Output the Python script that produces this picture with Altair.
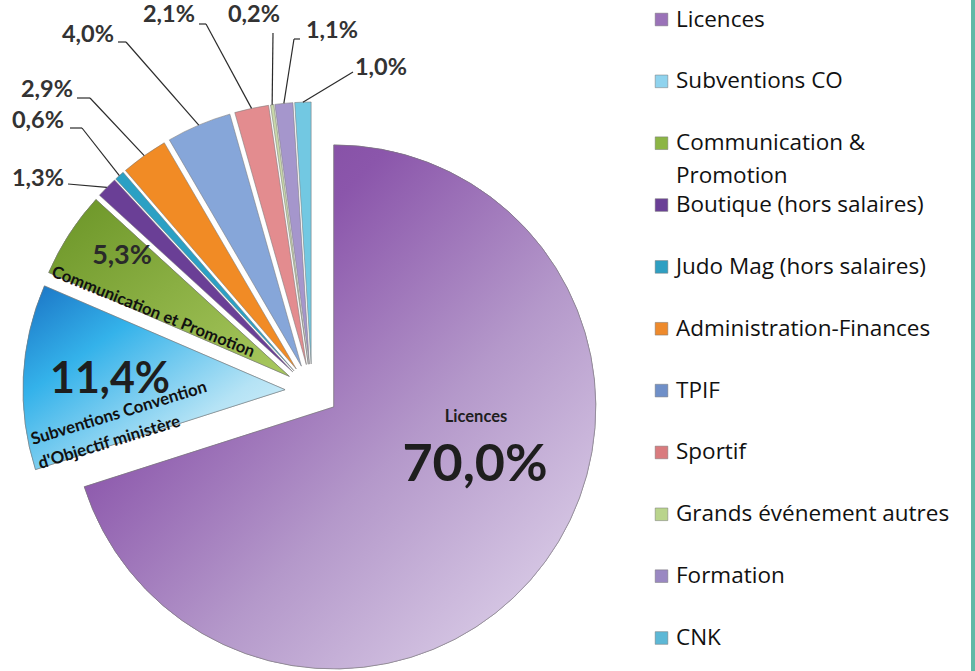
import altair as alt
import pandas as pd

# ---------------- data ----------------
categories = [
    "Licences", "Subventions CO", "Communication & Promotion",
    "Boutique (hors salaires)", "Judo Mag (hors salaires)",
    "Administration-Finances", "TPIF", "Sportif",
    "Grands événement autres", "Formation", "CNK",
]
values = [70.0, 11.4, 5.3, 1.3, 0.6, 2.9, 4.0, 2.1, 0.2, 1.1, 1.0]
value_labels = ["70,0%", "11,4%", "5,3%", "1,3%", "0,6%", "2,9%",
                "4,0%", "2,1%", "0,2%", "1,1%", "1,0%"]
legend_labels = [
    "Licences", "Subventions CO", "Communication &\nPromotion",
    "Boutique (hors salaires)", "Judo Mag (hors salaires)",
    "Administration-Finances", "TPIF", "Sportif",
    "Grands événement autres", "Formation", "CNK",
]
inner_names = {
    "Licences": "Licences",
    "Subventions CO": "Subventions Convention\nd'Objectif ministère",
    "Communication & Promotion": "Communication et Promotion",
}

# ---------------- styles / layout ----------------
slice_colors = ["#9a6ab6", "#45b6e8", "#7aa334", "#6a3f96", "#2ba0c4",
                "#f18b25", "#86a6d9", "#e38c8f", "#c9d8aa", "#a596cc", "#72c8e2"]
legend_colors = ["#9a72b8", "#8fd3ee", "#8cb545", "#6a3f96", "#2f9fc2",
                 "#ee8a2c", "#6f8fc8", "#d97b7e", "#b9d48c", "#9a88c2", "#5db8d6"]
FONT = "Lato"
LEG_FONT = "Open Sans"
CX, CY, R, EXPLODE = 312, 391, 262, 27

# label layout for the small slices: label centre (lx, ly), line tail (tx, ty), elbow x (ex)
outer_layout = {
    "Boutique (hors salaires)": (38, 179, 68, 184, 68),
    "Judo Mag (hors salaires)": (38, 121, 70, 128, 82),
    "Administration-Finances": (47, 90, 77, 98, 90),
    "TPIF": (88, 35, 118, 42, 126),
    "Sportif": (169, 15, 199, 24, 206),
    "Grands événement autres": (254, 15, 273, 33, 273),
    "Formation": (332, 31, 300, 39, 294),
    "CNK": (381, 68, 353, 72, 353),
}

rows = []
for i, (c, v, l) in enumerate(zip(categories, values, value_labels)):
    lay = outer_layout.get(c)
    rows.append({
        "category": c, "value": v, "label": l, "order": i,
        "inner": inner_names.get(c, ""),
        "lx": lay[0] if lay else None, "ly": lay[1] if lay else None,
        "tx": lay[2] if lay else None, "ty": lay[3] if lay else None,
        "ex": lay[4] if lay else None,
    })
df = pd.DataFrame(rows)

base = alt.Chart(df).transform_window(
    cum="sum(value)", sort=[alt.SortField("order")], frame=[None, 0]
).transform_joinaggregate(
    total="sum(value)"
).transform_calculate(
    t0="2*PI*(datum.cum - datum.value)/datum.total",
    t1="2*PI*datum.cum/datum.total",
).transform_calculate(
    mid="(datum.t0 + datum.t1)/2"
).transform_calculate(
    px=f"{CX} + {EXPLODE}*sin(datum.mid)",
    py=f"{CY} - {EXPLODE}*cos(datum.mid)",
    ox=f"{CX} + {EXPLODE + R}*sin(datum.mid)",
    oy=f"{CY} - {EXPLODE + R}*cos(datum.mid)",
)

enc = dict(
    theta=alt.Theta("t0:Q", scale=None),
    theta2=alt.Theta2("t1"),
    x=alt.X("px:Q", scale=None),
    y=alt.Y("py:Q", scale=None),
)
color_scale = alt.Scale(domain=categories, range=slice_colors)

arcs = base.mark_arc(outerRadius=R, stroke="#7a7a7a", strokeWidth=0.8, strokeOpacity=0.7).encode(
    color=alt.Color("category:N", scale=color_scale, legend=None), **enc
)


def grad_layer(cat, stops):
    return base.transform_filter(alt.datum.category == cat).mark_arc(
        outerRadius=R, stroke="#7a7a7a", strokeWidth=0.8, strokeOpacity=0.7,
        fill=alt.LinearGradient(
            gradient="linear", x1=0, y1=0, x2=1, y2=1,
            stops=[alt.GradientStop(offset=o, color=c) for o, c in stops],
        ),
    ).encode(**enc)


g_lic = grad_layer("Licences", [(0, "#7a4199"), (0.3, "#8b56ab"), (0.6, "#b498ca"), (1, "#e6ddf0")])
g_sub = grad_layer("Subventions CO", [(0, "#1a72c4"), (0.3, "#34b2ea"), (0.7, "#b5e3f5"), (1, "#e6f6fb")])
g_com = grad_layer("Communication & Promotion", [(0, "#6a9426"), (1, "#a9c95f")])

outer = base.transform_filter("isValid(datum.lx)")
seg1 = outer.mark_rule(color="#2b2b2b", strokeWidth=1.2).encode(
    x=alt.X("ox:Q", scale=None), y=alt.Y("oy:Q", scale=None), x2=alt.X2("ex"), y2=alt.Y2("ty")
)
seg2 = outer.mark_rule(color="#2b2b2b", strokeWidth=1.2).encode(
    x=alt.X("ex:Q", scale=None), y=alt.Y("ty:Q", scale=None), x2=alt.X2("tx"), y2=alt.Y2("ty")
)
outer_text = outer.mark_text(font=FONT, fontSize=23.5, fontWeight="bold", color="#333333").encode(
    x=alt.X("lx:Q", scale=None), y=alt.Y("ly:Q", scale=None), text="label:N"
)

lic = base.transform_filter(alt.datum.category == "Licences")
lic_name = lic.mark_text(font=FONT, fontSize=16.5, fontWeight="bold", color="#1e1e1e").encode(
    x=alt.value(476), y=alt.value(417), text="inner:N")
lic_val = lic.mark_text(font=FONT, fontSize=52, fontWeight="bold", color="#1e1e1e").encode(
    x=alt.value(475), y=alt.value(465), text="label:N")

sub = base.transform_filter(alt.datum.category == "Subventions CO")
sub_val = sub.mark_text(font=FONT, fontSize=43, fontWeight="bold", color="#1e1e1e").encode(
    x=alt.value(110), y=alt.value(380), text="label:N")
sub_name = sub.mark_text(font=FONT, fontSize=16.8, fontWeight="bold", color="#111111", angle=343,
                         align="left", baseline="alphabetic", lineBreak="\n", lineHeight=25).encode(
    x=alt.value(33), y=alt.value(445), text="inner:N")

com = base.transform_filter(alt.datum.category == "Communication & Promotion")
com_val = com.mark_text(font=FONT, fontSize=27, fontWeight="bold", color="#2a2a2a").encode(
    x=alt.value(122), y=alt.value(256), text="label:N")
com_name = com.mark_text(font=FONT, fontSize=16.5, fontWeight="bold", color="#111111", angle=22).encode(
    x=alt.value(153), y=alt.value(312), text="inner:N")

# ---------------- legend ----------------
leg_df = pd.DataFrame({"category": categories, "text": legend_labels})
leg_y = alt.Y("category:N", scale=alt.Scale(type="point", domain=categories, range=[19.5, 638], padding=0), axis=None)
leg_sq = alt.Chart(leg_df).mark_square(size=160, opacity=1, stroke="#777777", strokeWidth=0.5).encode(
    x=alt.value(661.5), y=leg_y,
    color=alt.Color("category:N", scale=alt.Scale(domain=categories, range=legend_colors), legend=None),
)
leg_txt = alt.Chart(leg_df).mark_text(font=LEG_FONT, fontSize=22.5, align="left", baseline="middle",
                                      lineBreak="\n", lineHeight=33, color="#111111").encode(
    x=alt.value(676), y=leg_y, text="text:N")

strip = alt.Chart(pd.DataFrame({"a": [0]})).mark_rect(color="#62b9a6").encode(
    x=alt.value(971), x2=alt.value(975), y=alt.value(0), y2=alt.value(671))

chart = alt.layer(
    arcs, g_lic, g_sub, g_com, seg1, seg2, outer_text,
    lic_name, lic_val, sub_val, sub_name, com_val, com_name,
    leg_sq, leg_txt, strip,
).resolve_scale(
    x="independent", y="independent", color="independent"
).properties(
    width=975, height=671, padding=0, autosize="none", background="white"
).configure_view(stroke=None)

chart.save("out.html", embed_options={"renderer": "svg", "actions": False})
